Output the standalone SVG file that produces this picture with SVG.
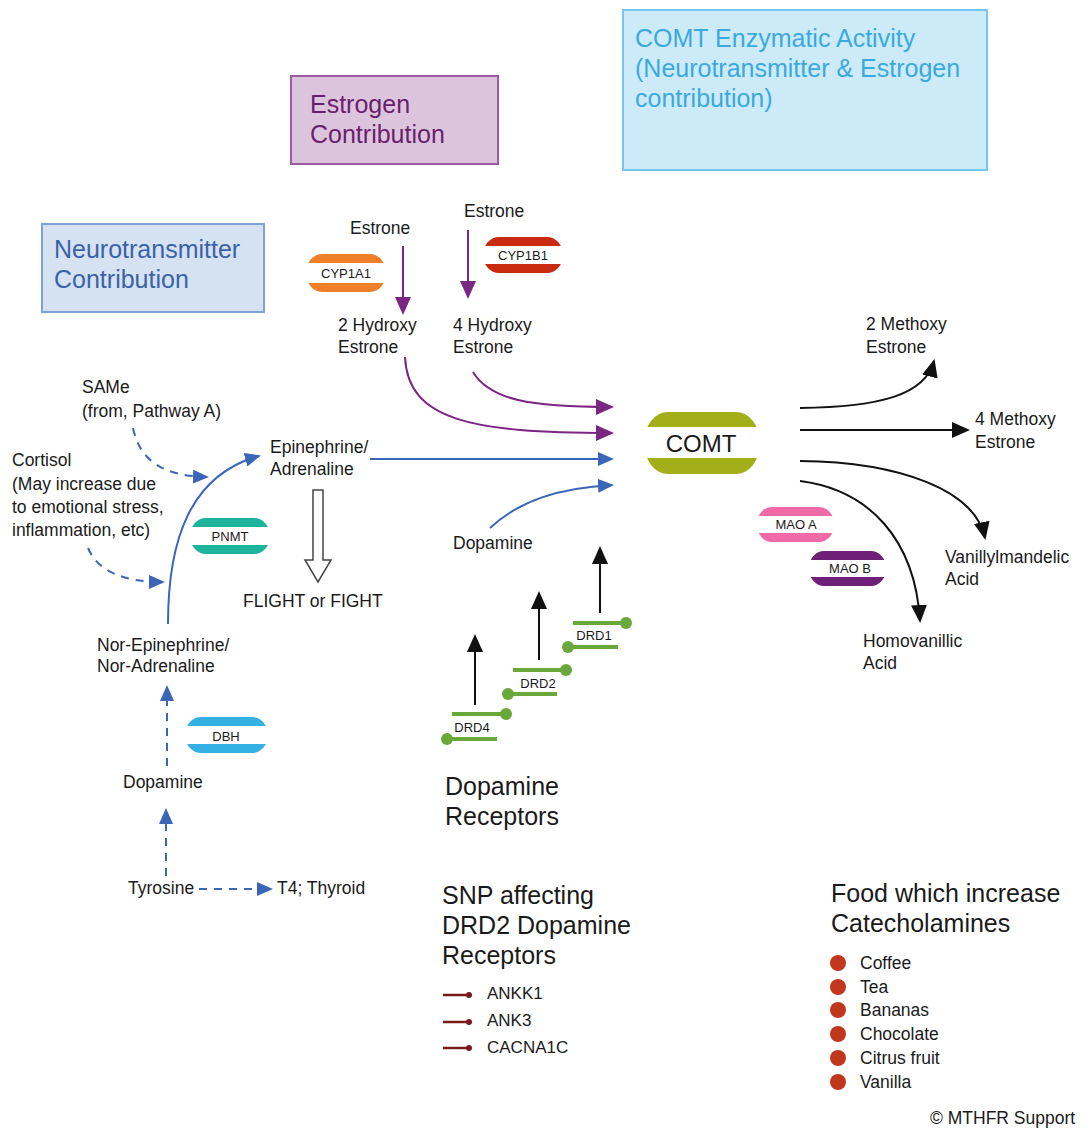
<svg xmlns="http://www.w3.org/2000/svg" width="1089" height="1131" viewBox="0 0 1089 1131">
<style>
text{font-family:"Liberation Sans",Arial,sans-serif;fill:#1a1a1a}
.t{font-size:17.5px}
.h{font-size:25px}
.e{font-size:13px;text-anchor:middle}
.lnB{fill:none;stroke:#3b66b8;stroke-width:2}
.dashB{fill:none;stroke:#3b66b8;stroke-width:2;stroke-dasharray:8 7}
.lnP{fill:none;stroke:#7a2682;stroke-width:2}
.lnK{fill:none;stroke:#111;stroke-width:2}
.drd{stroke:#69a83a;stroke-width:4;fill:none}
.dot{fill:#69a83a}
.snp{stroke:#7a1a1a;stroke-width:2.5}
.food{fill:#c2361e}
</style>
<defs>
<marker id="mB" markerWidth="16" markerHeight="14" refX="14" refY="7" orient="auto" markerUnits="userSpaceOnUse"><path d="M0,0 L16,7 L0,14 Z" fill="#3b66b8"/></marker>
<marker id="mP" markerWidth="18" markerHeight="16" refX="16" refY="8" orient="auto" markerUnits="userSpaceOnUse"><path d="M0,0 L18,8 L0,16 Z" fill="#7a2682"/></marker>
<marker id="mK" markerWidth="18" markerHeight="16" refX="16" refY="8" orient="auto" markerUnits="userSpaceOnUse"><path d="M0,0 L18,8 L0,16 Z" fill="#111"/></marker>
</defs>

<rect width="1089" height="1131" fill="#ffffff"/>

<g id="box-estrogen">
<rect x="291" y="76" width="207" height="88" fill="#dcc4dc" stroke="#9a5c9e" stroke-width="2"/>
<text x="310" y="113" class="h" style="fill:#6a1f6e">Estrogen</text>
<text x="310" y="143" class="h" style="fill:#6a1f6e">Contribution</text>
</g>
<g id="box-comt-activity">
<rect x="623" y="10" width="364" height="160" fill="#cdeaf8" stroke="#73c6ef" stroke-width="2"/>
<text x="635" y="47" class="h" style="fill:#3aa9de">COMT Enzymatic Activity</text>
<text x="635" y="77" class="h" style="fill:#3aa9de">(Neurotransmitter &amp; Estrogen</text>
<text x="635" y="107" class="h" style="fill:#3aa9de">contribution)</text>
</g>
<g id="box-neuro">
<rect x="42" y="224" width="222" height="88" fill="#d5e2f2" stroke="#7fa1d6" stroke-width="2"/>
<text x="54" y="258" class="h" style="fill:#3a62a8">Neurotransmitter</text>
<text x="54" y="288" class="h" style="fill:#3a62a8">Contribution</text>
</g>

<g id="connectors">
<line x1="403" y1="246" x2="403" y2="313" class="lnP" marker-end="url(#mP)"/>
<line x1="468" y1="230" x2="468" y2="297" class="lnP" marker-end="url(#mP)"/>
<path d="M405,357 C408,420 470,433 612,433" class="lnP" marker-end="url(#mP)"/>
<path d="M473,372 C490,400 530,407 612,407" class="lnP" marker-end="url(#mP)"/>
<line x1="370" y1="459" x2="612" y2="459" class="lnB" marker-end="url(#mB)"/>
<path d="M490,528 C520,500 560,488 612,485" class="lnB" marker-end="url(#mB)"/>
<path d="M168,624 C168,540 190,475 259,456" class="lnB" marker-end="url(#mB)"/>
<path d="M133,428 C140,462 165,476 207,477" class="dashB" marker-end="url(#mB)"/>
<path d="M88,548 C98,572 125,582 163,582" class="dashB" marker-end="url(#mB)"/>
<line x1="167" y1="766" x2="167" y2="687" class="dashB" marker-end="url(#mB)"/>
<line x1="166" y1="876" x2="166" y2="810" class="dashB" marker-end="url(#mB)"/>
<line x1="199" y1="889" x2="271" y2="889" class="dashB" marker-end="url(#mB)"/>
<path d="M313,490 L323,490 L323,560 L331,560 L318,582 L305,560 L313,560 Z" fill="#fff" stroke="#444" stroke-width="1.5"/>
<path d="M800,408 C880,407 925,395 934,361" class="lnK" marker-end="url(#mK)"/>
<line x1="800" y1="430" x2="968" y2="430" class="lnK" marker-end="url(#mK)"/>
<path d="M800,461 C900,462 975,490 985,538" class="lnK" marker-end="url(#mK)"/>
<path d="M800,481 C870,490 915,540 920,621" class="lnK" marker-end="url(#mK)"/>
<line x1="600" y1="613" x2="600" y2="548" class="lnK" marker-end="url(#mK)"/>
<line x1="539" y1="660" x2="539" y2="593" class="lnK" marker-end="url(#mK)"/>
<line x1="475" y1="705" x2="475" y2="636" class="lnK" marker-end="url(#mK)"/>
</g>

<g id="enz-cyp1a1">
<rect x="306" y="254" width="80" height="38" rx="16" ry="19" fill="#f07f2a"/>
<rect x="304" y="263" width="84" height="20" fill="#fff"/>
<text x="346" y="278" class="e">CYP1A1</text>
</g>
<g id="enz-cyp1b1">
<rect x="483" y="237" width="80" height="36" rx="16" ry="18" fill="#c92a10"/>
<rect x="481" y="246" width="84" height="18" fill="#fff"/>
<text x="523" y="260" class="e">CYP1B1</text>
</g>
<g id="enz-comt">
<rect x="644" y="412" width="116" height="62" rx="24" ry="31" fill="#a2af19"/>
<rect x="642" y="427" width="120" height="31" fill="#fff"/>
<text x="701" y="452" style="font-size:24px;text-anchor:middle">COMT</text>
</g>
<g id="enz-maoa">
<rect x="757" y="507" width="77" height="35" rx="15" ry="17" fill="#f06aa8"/>
<rect x="755" y="516" width="81" height="17" fill="#fff"/>
<text x="796" y="529" class="e">MAO A</text>
</g>
<g id="enz-maob">
<rect x="809" y="551" width="77" height="35" rx="15" ry="17" fill="#6e1f77"/>
<rect x="807" y="560" width="81" height="17" fill="#fff"/>
<text x="850" y="573" class="e">MAO B</text>
</g>
<g id="enz-pnmt">
<rect x="190" y="518" width="80" height="36" rx="16" ry="18" fill="#1db39a"/>
<rect x="188" y="527" width="84" height="18" fill="#fff"/>
<text x="230" y="541" class="e">PNMT</text>
</g>
<g id="enz-dbh">
<rect x="185" y="717" width="83" height="36" rx="16" ry="18" fill="#35b0e4"/>
<rect x="183" y="726" width="87" height="18" fill="#fff"/>
<text x="226" y="741" class="e">DBH</text>
</g>

<g id="drd1">
<line x1="573" y1="623" x2="625" y2="623" class="drd"/><circle cx="626" cy="623" r="6" class="dot"/>
<line x1="568" y1="647" x2="618" y2="647" class="drd"/><circle cx="568" cy="647" r="6" class="dot"/>
<text x="594" y="640" class="e">DRD1</text>
</g>
<g id="drd2">
<line x1="513" y1="670" x2="565" y2="670" class="drd"/><circle cx="566" cy="670" r="6" class="dot"/>
<line x1="508" y1="694" x2="557" y2="694" class="drd"/><circle cx="508" cy="694" r="6" class="dot"/>
<text x="538" y="688" class="e">DRD2</text>
</g>
<g id="drd4">
<line x1="452" y1="714" x2="505" y2="714" class="drd"/><circle cx="506" cy="714" r="6" class="dot"/>
<line x1="447" y1="739" x2="497" y2="739" class="drd"/><circle cx="447" cy="739" r="6" class="dot"/>
<text x="472" y="732" class="e">DRD4</text>
</g>

<g id="labels">
<text x="350" y="234" class="t">Estrone</text>
<text x="464" y="217" class="t">Estrone</text>
<text x="338" y="331" class="t">2 Hydroxy</text>
<text x="338" y="353" class="t">Estrone</text>
<text x="453" y="331" class="t">4 Hydroxy</text>
<text x="453" y="353" class="t">Estrone</text>
<text x="866" y="330" class="t">2 Methoxy</text>
<text x="866" y="353" class="t">Estrone</text>
<text x="975" y="425" class="t">4 Methoxy</text>
<text x="975" y="448" class="t">Estrone</text>
<text x="945" y="563" class="t">Vanillylmandelic</text>
<text x="945" y="585" class="t">Acid</text>
<text x="863" y="647" class="t">Homovanillic</text>
<text x="863" y="669" class="t">Acid</text>
<text x="453" y="549" class="t">Dopamine</text>
<text x="82" y="393" class="t">SAMe</text>
<text x="82" y="417" class="t">(from, Pathway A)</text>
<text x="12" y="466" class="t">Cortisol</text>
<text x="12" y="490" class="t">(May increase due</text>
<text x="12" y="513" class="t">to emotional stress,</text>
<text x="12" y="536" class="t">inflammation, etc)</text>
<text x="270" y="453" class="t">Epinephrine/</text>
<text x="270" y="475" class="t">Adrenaline</text>
<text x="243" y="607" class="t">FLIGHT or FIGHT</text>
<text x="97" y="651" class="t">Nor-Epinephrine/</text>
<text x="97" y="672" class="t">Nor-Adrenaline</text>
<text x="123" y="788" class="t">Dopamine</text>
<text x="128" y="894" class="t">Tyrosine</text>
<text x="277" y="894" class="t">T4; Thyroid</text>
<text x="445" y="795" class="h">Dopamine</text>
<text x="445" y="825" class="h">Receptors</text>
</g>

<g id="snp-list">
<text x="442" y="904" class="h">SNP affecting</text>
<text x="442" y="934" class="h">DRD2 Dopamine</text>
<text x="442" y="964" class="h">Receptors</text>
<line x1="443" y1="995" x2="468" y2="995" class="snp"/><circle cx="469" cy="995" r="3" fill="#7a1a1a"/>
<text x="487" y="999" class="t" style="font-size:17px">ANKK1</text>
<line x1="443" y1="1022" x2="468" y2="1022" class="snp"/><circle cx="469" cy="1022" r="3" fill="#7a1a1a"/>
<text x="487" y="1026" class="t" style="font-size:17px">ANK3</text>
<line x1="443" y1="1048" x2="468" y2="1048" class="snp"/><circle cx="469" cy="1048" r="3" fill="#7a1a1a"/>
<text x="487" y="1053" class="t" style="font-size:17px">CACNA1C</text>
</g>

<g id="food-list">
<text x="831" y="902" class="h">Food which increase</text>
<text x="831" y="932" class="h">Catecholamines</text>
<circle cx="838" cy="963" r="8" class="food"/><text x="860" y="969" class="t">Coffee</text>
<circle cx="838" cy="987" r="8" class="food"/><text x="860" y="993" class="t">Tea</text>
<circle cx="838" cy="1010" r="8" class="food"/><text x="860" y="1016" class="t">Bananas</text>
<circle cx="838" cy="1034" r="8" class="food"/><text x="860" y="1040" class="t">Chocolate</text>
<circle cx="838" cy="1058" r="8" class="food"/><text x="860" y="1064" class="t">Citrus fruit</text>
<circle cx="838" cy="1082" r="8" class="food"/><text x="860" y="1088" class="t">Vanilla</text>
</g>

<text x="930" y="1124" class="t">© MTHFR Support</text>
</svg>
